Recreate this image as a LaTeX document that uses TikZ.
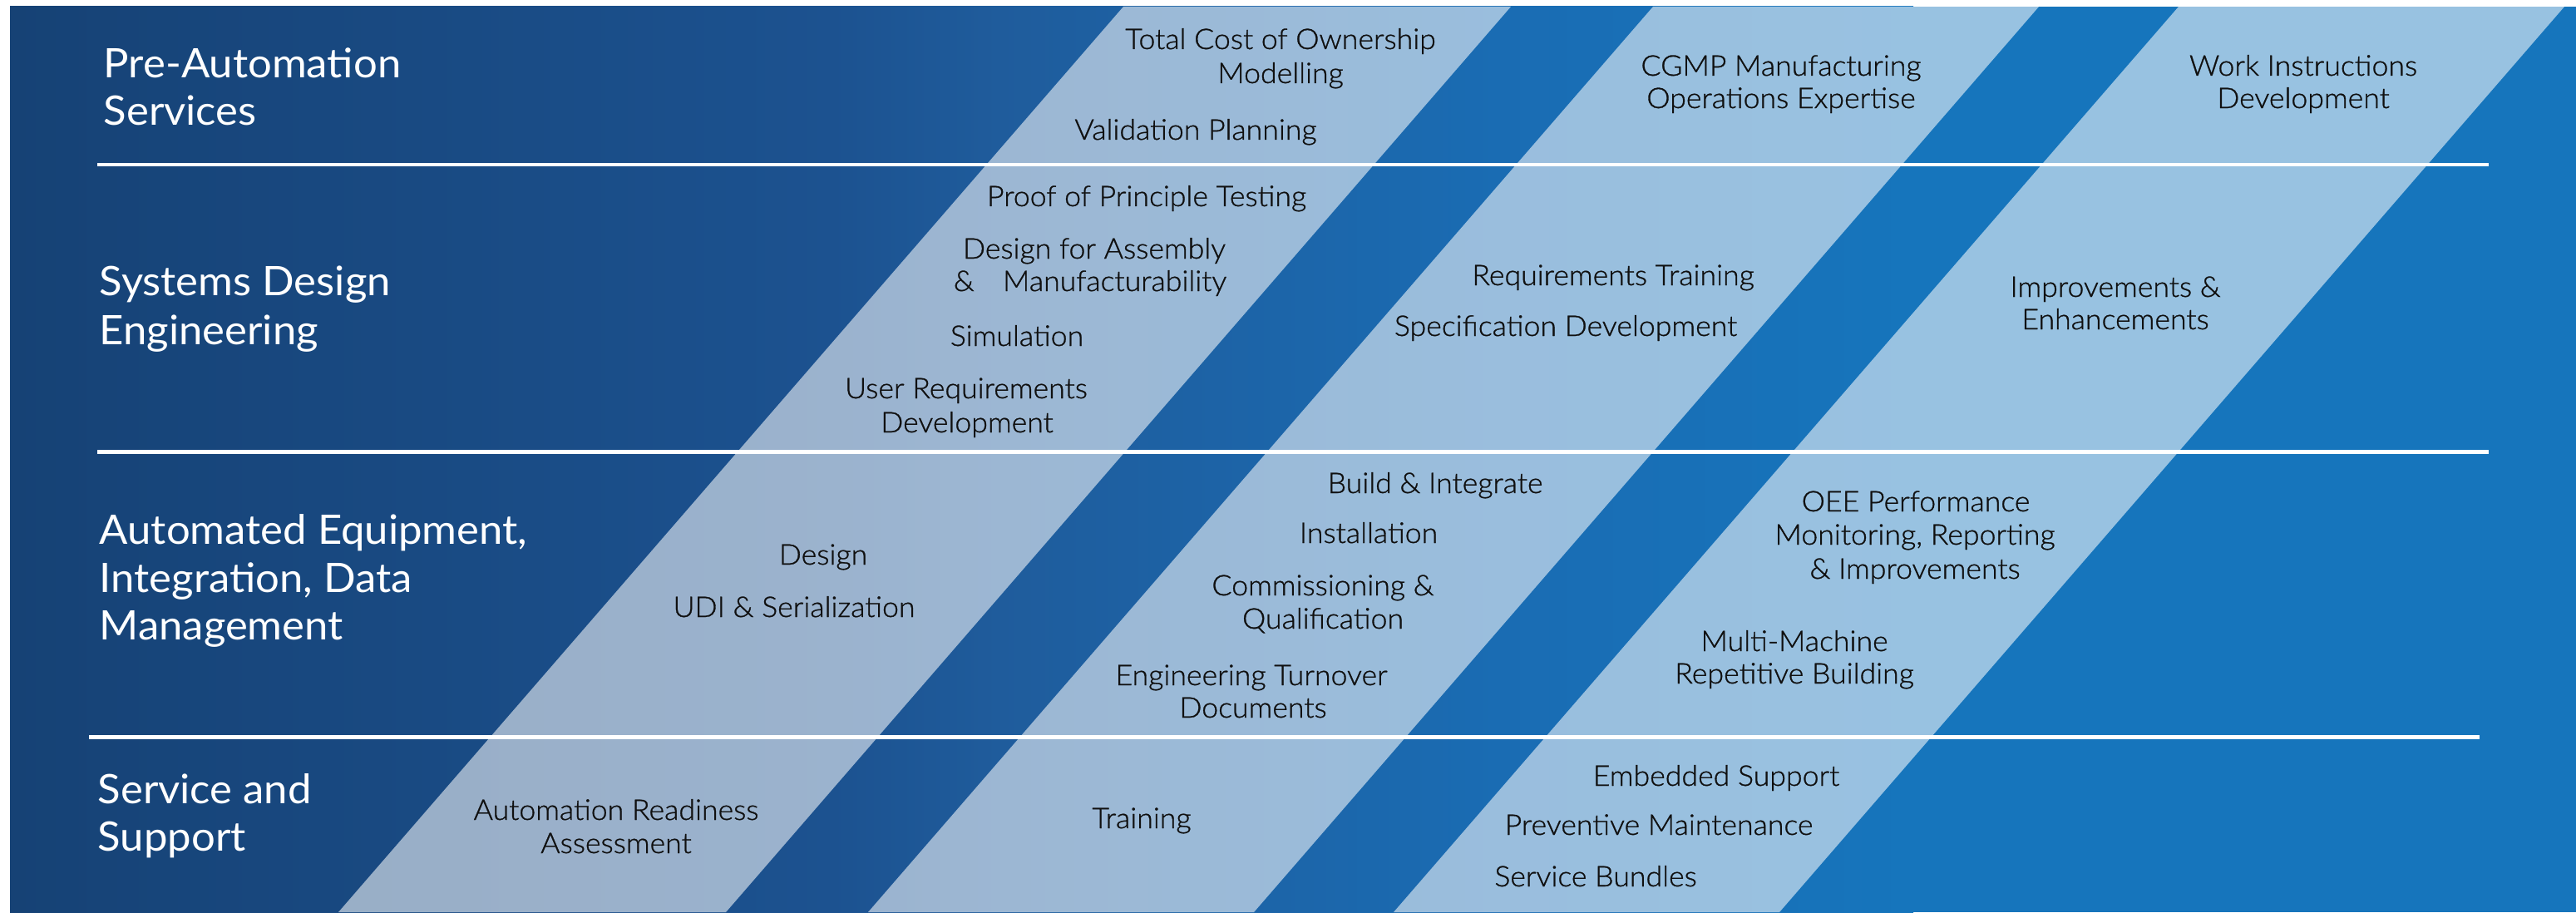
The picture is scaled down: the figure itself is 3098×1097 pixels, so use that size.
\documentclass[tikz,border=0pt]{standalone}
\usepackage{fontspec}
\setmainfont{Lato}[FakeStretch=1.04]
\newfontfamily\itemfamily{Lato Light}[FakeStretch=1.04, FakeBold=0.9]
\definecolor{bgA}{HTML}{164275}
\definecolor{bgB}{HTML}{1C5290}
\definecolor{bgC}{HTML}{1F5C9C}
\definecolor{bgD}{HTML}{1A6CB3}
\definecolor{bgE}{HTML}{1675BC}
\definecolor{itemtext}{HTML}{101010}
\tikzset{
  item/.style={font=\itemfamily\fontsize{9.75pt}{11pt}\selectfont, text=itemtext, inner sep=0pt, anchor=base},
  rowlabel/.style={font=\fontsize{13.9pt}{16pt}\selectfont, text=white, inner sep=0pt, anchor=base west},
  sepline/.style={draw=white, line width=1.42pt},
  lightband/.style={fill=white, fill opacity=0.56},
}
\begin{document}
\begin{tikzpicture}[x=0.01cm, y=-0.01cm]
\useasboundingbox (0,0) rectangle (3098,1097);
% background gradient
\shade[left color=bgA, right color=bgB] (12,8) rectangle (1001,1097);
\shade[left color=bgB, right color=bgC] (1000,8) rectangle (1201,1097);
\shade[left color=bgC, right color=bgD] (1200,8) rectangle (1801,1097);
\shade[left color=bgD, right color=bgE] (1800,8) rectangle (2301,1097);
\fill[bgE] (2300,8) rectangle (3098,1097);
% diagonal light bands
\begin{scope}
\clip (12,8) rectangle (3098,1097);
\fill[lightband] (1351,8) -- (1817,8) -- (873,1097) -- (407,1097) -- cycle;
\fill[lightband] (1988,8) -- (2452,8) -- (1508,1097) -- (1044,1097) -- cycle;
\fill[lightband] (2620,8) -- (3084,8) -- (2140,1097) -- (1676,1097) -- cycle;
\end{scope}
% separator lines
\coordinate (s1a) at (117,198); \coordinate (s1b) at (2993,198);
\coordinate (s2a) at (117,543); \coordinate (s2b) at (2993,543);
\coordinate (s3a) at (107,886); \coordinate (s3b) at (2982,886);
\draw[sepline] (s1a) -- (s1b);
\draw[sepline] (s2a) -- (s2b);
\draw[sepline] (s3a) -- (s3b);
% row labels
\node[rowlabel] (l1a) at (124,94) {Pre-Automation};
\node[rowlabel] (l1b) at (124,151) {Services};
\node[rowlabel] (l2a) at (119,355) {Systems Design};
\node[rowlabel] (l2b) at (119,414) {Engineering};
\node[rowlabel] (l3a) at (119,654) {Automated Equipment,};
\node[rowlabel] (l3b) at (119,712) {Integration, Data};
\node[rowlabel] (l3c) at (119,769) {Management};
\node[rowlabel] (l4a) at (117,966) {Service and};
\node[rowlabel] (l4b) at (117,1023) {Support};
% row 1 items
\node[item] (tco1) at (1540,59) {Total Cost of Ownership};
\node[item] (tco2) at (1540,100) {Modelling};
\node[item] (vp) at (1438,168) {Validation Planning};
\node[item] (cg1) at (2142,91) {CGMP Manufacturing};
\node[item] (cg2) at (2142,130) {Operations Expertise};
\node[item] (wi1) at (2770,91) {Work Instructions};
\node[item] (wi2) at (2770,130) {Development};
% row 2 items
\node[item] (pp) at (1379,248) {Proof of Principle Testing};
\node[item] (dfa1) at (1316,311) {Design for Assembly};
\node[item] (dfa2) at (1311,350) {\&\quad Manufacturability};
\node[item] (sim) at (1223,416) {Simulation};
\node[item] (ur1) at (1162,479) {User Requirements};
\node[item] (ur2) at (1163,520) {Development};
\node[item] (rt) at (1940,343) {Requirements Training};
\node[item] (sd) at (1883,404) {Specification Development};
\node[item] (ie1) at (2544,357) {Improvements \&};
\node[item] (ie2) at (2544,396) {Enhancements};
% row 3 items
\node[item] (des) at (990,679) {Design};
\node[item] (udi) at (955,742) {UDI \& Serialization};
\node[item] (bi) at (1726,593) {Build \& Integrate};
\node[item] (inst) at (1646,653) {Installation};
\node[item] (cq1) at (1591,716) {Commissioning \&};
\node[item] (cq2) at (1591,756) {Qualification};
\node[item] (et1) at (1505,824) {Engineering Turnover};
\node[item] (et2) at (1507,863) {Documents};
\node[item] (oee1) at (2304,615) {OEE Performance};
\node[item] (oee2) at (2303,655) {Monitoring, Reporting};
\node[item] (oee3) at (2303,696) {\& Improvements};
\node[item] (mm1) at (2158,783) {Multi-Machine};
\node[item] (mm2) at (2158,822) {Repetitive Building};
% row 4 items
\node[item] (ar1) at (741,986) {Automation Readiness};
\node[item] (ar2) at (741,1026) {Assessment};
\node[item] (tr) at (1373,996) {Training};
\node[item] (es) at (2064,945) {Embedded Support};
\node[item] (pm) at (1995,1004) {Preventive Maintenance};
\node[item] (sb) at (1919,1066) {Service Bundles};
\end{tikzpicture}
\end{document}
